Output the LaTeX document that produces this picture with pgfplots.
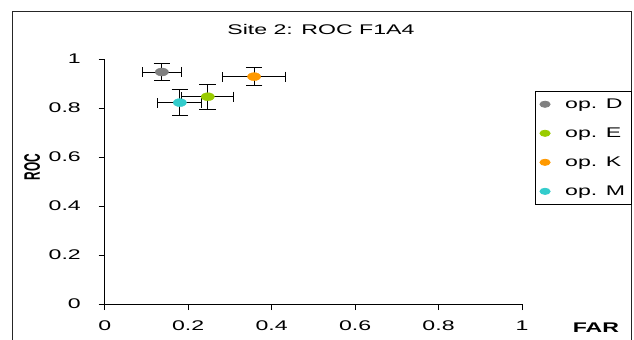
\documentclass[border=0pt]{standalone}
\usepackage{pgfplots}
\pgfplotsset{compat=1.18}
\usepackage{fontspec}
\setmainfont[FakeStretch=1.65]{Liberation Sans}
\newfontfamily\plainfont{Liberation Sans}
\definecolor{cD}{HTML}{808080}
\definecolor{cE}{HTML}{99CC00}
\definecolor{cK}{HTML}{FF9900}
\definecolor{cM}{HTML}{33CCCC}
\pgfplotsset{
  xbars/.style={forget plot, only marks, mark=none,
    error bars/.cd, x dir=both, x explicit,
    error bar style={black, line width=0.9bp},
    error mark options={rotate=90, black, line width=0.9bp, mark size=5bp}},
  ybars/.style={only marks, mark=*, mark size=4bp,
    mark options={fill=#1, draw=#1, xscale=1.65},
    error bars/.cd, y dir=both, y explicit,
    error bar style={black, line width=0.9bp},
    error mark options={rotate=90, black, line width=0.9bp, mark size=8.3bp}},
}
\begin{document}
\fontsize{14bp}{16bp}\selectfont
\begin{tikzpicture}
\useasboundingbox (0bp,0bp) rectangle (634bp,340bp);
\draw[line width=1bp, black!85] (12bp,-5bp) rectangle (631bp,328bp);
\begin{axis}[
  at={(104.7bp,36bp)}, anchor=south west,
  scale only axis, width=417.3bp, height=245bp,
  xmin=0, xmax=1, ymin=0, ymax=1,
  axis x line=bottom, axis y line=left,
  axis line style={-, line width=0.9bp, black},
  xtick={0,0.2,0.4,0.6,0.8,1}, ytick={0,0.2,0.4,0.6,0.8,1},
  tick align=outside, major tick length=6bp,
  tick style={line width=0.9bp, black},
  /pgf/number format/assume math mode=true,
  /pgf/number format/fixed,
  ticklabel style={font=\fontsize{14bp}{16bp}\selectfont},
  xticklabel style={anchor=base, yshift=-20bp},
  yticklabel style={anchor=east, xshift=-13bp},
  title={Site 2: ROC F1A4},
  title style={at={(axis description cs:0.518,1.094)}, anchor=center, font=\fontsize{14bp}{16bp}\selectfont},
  xlabel={\bfseries FAR},
  xlabel style={at={(axis description cs:1.177,-0.118)}, anchor=base, font=\fontsize{14bp}{16bp}\selectfont},
  ylabel={\scalebox{0.85}[1.6]{\plainfont\bfseries ROC}},
  ylabel style={at={(axis description cs:-0.174,0.559)}, anchor=center},
  legend style={at={(1.0312,0.8694)}, anchor=north west, draw=black, line width=0.8bp,
    font=\fontsize{14bp}{16bp}\selectfont, inner xsep=4.5bp, inner ysep=5bp,
    row sep=13.3bp, nodes={inner sep=2bp},
    /tikz/every odd column/.append style={column sep=13bp}},
  legend image post style={mark size=3.1bp},
  legend cell align=left,
  clip=false,
]
\addplot[xbars] coordinates {(0.137,0.947) +- (0.047,0)};
\addplot[ybars=cD] coordinates {(0.137,0.947) +- (0,0.036)};
\addlegendentry{op. D}
\addplot[xbars] coordinates {(0.247,0.846) +- (0.062,0)};
\addplot[ybars=cE] coordinates {(0.247,0.846) +- (0,0.051)};
\addlegendentry{op. E}
\addplot[xbars] coordinates {(0.358,0.928) +- (0.075,0)};
\addplot[ybars=cK] coordinates {(0.358,0.928) +- (0,0.038)};
\addlegendentry{op. K}
\addplot[xbars] coordinates {(0.180,0.822) +- (0.053,0)};
\addplot[ybars=cM] coordinates {(0.180,0.822) +- (0,0.054)};
\addlegendentry{op. M}
\end{axis}
\end{tikzpicture}
\end{document}
